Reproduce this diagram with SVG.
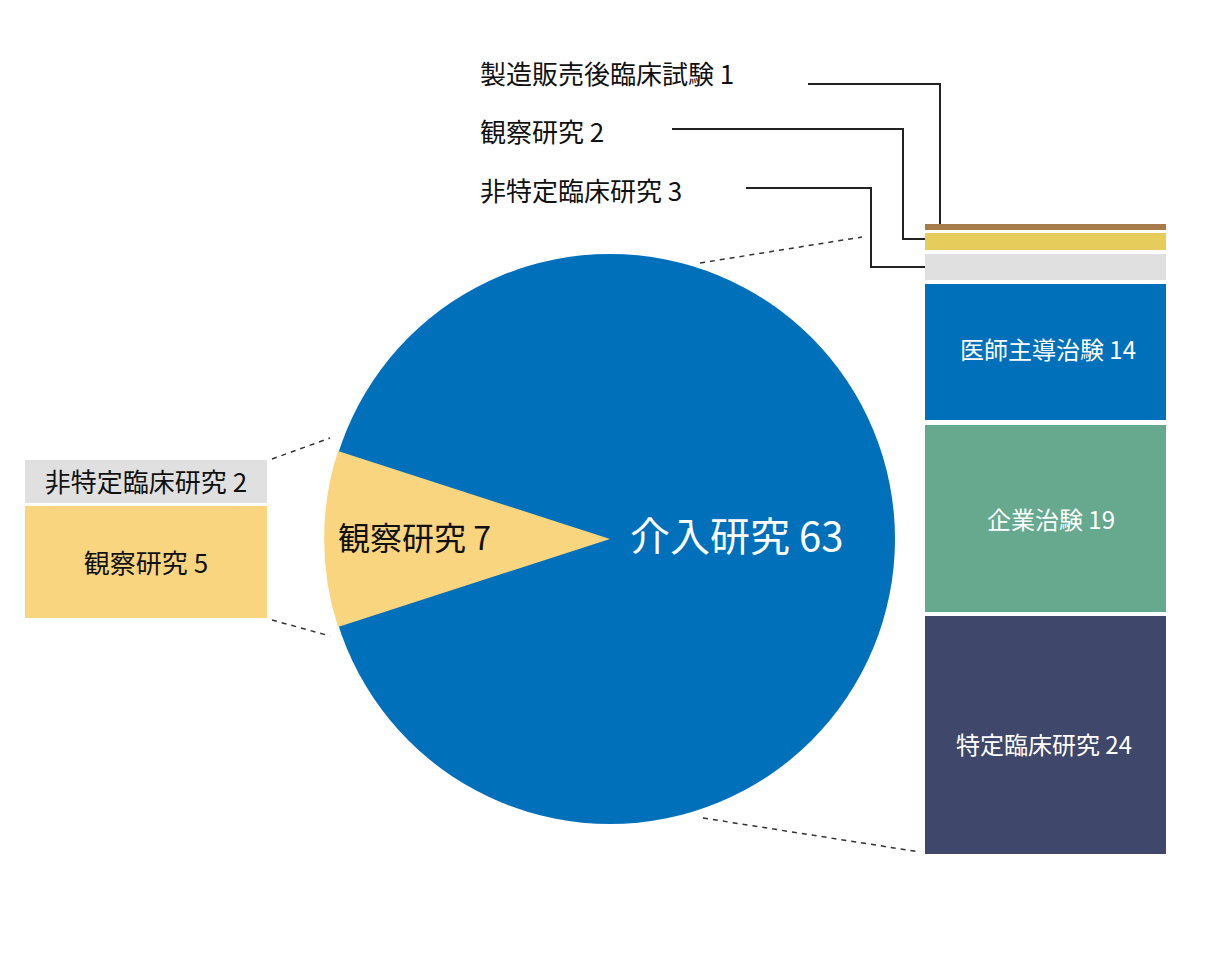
<svg xmlns="http://www.w3.org/2000/svg" width="1214" height="964" viewBox="0 0 1214 964">
<style>
text{font-family:"Noto Sans CJK JP","Noto Sans",sans-serif;}
.lbl{font-size:26px;fill:#111;}
.wl{font-size:24px;fill:#fff;}
.dash{stroke:#333;stroke-width:1.5;stroke-dasharray:5,5;fill:none;}
.lead{stroke:#222;stroke-width:2;fill:none;}
</style>
<rect width="1214" height="964" fill="#fff"/>
<g id="connectors">
<line class="dash" x1="272" y1="459" x2="330" y2="438"/>
<line class="dash" x1="272" y1="620" x2="330" y2="636"/>
<line class="dash" x1="700" y1="263" x2="862" y2="237"/>
<line class="dash" x1="703" y1="818" x2="920" y2="852"/>
<polyline class="lead" points="808,84 940,84 940,226"/>
<polyline class="lead" points="672,129 903,129 903,239 943,239"/>
<polyline class="lead" points="746,188 871,188 871,267 943,267"/>
</g>
<g id="pie">
<circle cx="610" cy="539" r="285" fill="#0070bb"/>
<path d="M610,539 L338,451 A286,286 0 0 0 338,627 Z" fill="#f9d57f"/>
<text x="338" y="550" font-size="32" fill="#111">観察研究  7</text>
<text x="630" y="551" font-size="40" fill="#fff">介入研究 63</text>
</g>
<g id="left-stack">
<rect x="25" y="460" width="242" height="43" fill="#e0e0e0"/>
<text class="lbl" x="146" y="492" text-anchor="middle" font-size="25">非特定臨床研究  2</text>
<rect x="25" y="506" width="242" height="112" fill="#f9d57f"/>
<text class="lbl" x="146" y="573" text-anchor="middle" font-size="25">観察研究   5</text>
</g>
<g id="right-stack">
<rect x="925" y="224" width="241" height="6" fill="#a77a4a"/>
<rect x="925" y="233" width="241" height="17" fill="#e6cc5a"/>
<rect x="925" y="254" width="241" height="26" fill="#e0e0e0"/>
<rect x="925" y="284" width="241" height="136" fill="#0070bb"/>
<text class="wl" x="1048" y="359" text-anchor="middle">医師主導治験 14</text>
<rect x="925" y="425" width="241" height="187" fill="#66a98f"/>
<text class="wl" x="1051" y="529" text-anchor="middle">企業治験 19</text>
<rect x="925" y="616" width="241" height="238" fill="#3f476a"/>
<text class="wl" x="1044" y="754" text-anchor="middle">特定臨床研究  24</text>
</g>
<g id="top-labels">
<text class="lbl" x="480" y="84">製造販売後臨床試験 1</text>
<text class="lbl" x="480" y="142">観察研究 2</text>
<text class="lbl" x="480" y="201">非特定臨床研究 3</text>
</g>
</svg>
